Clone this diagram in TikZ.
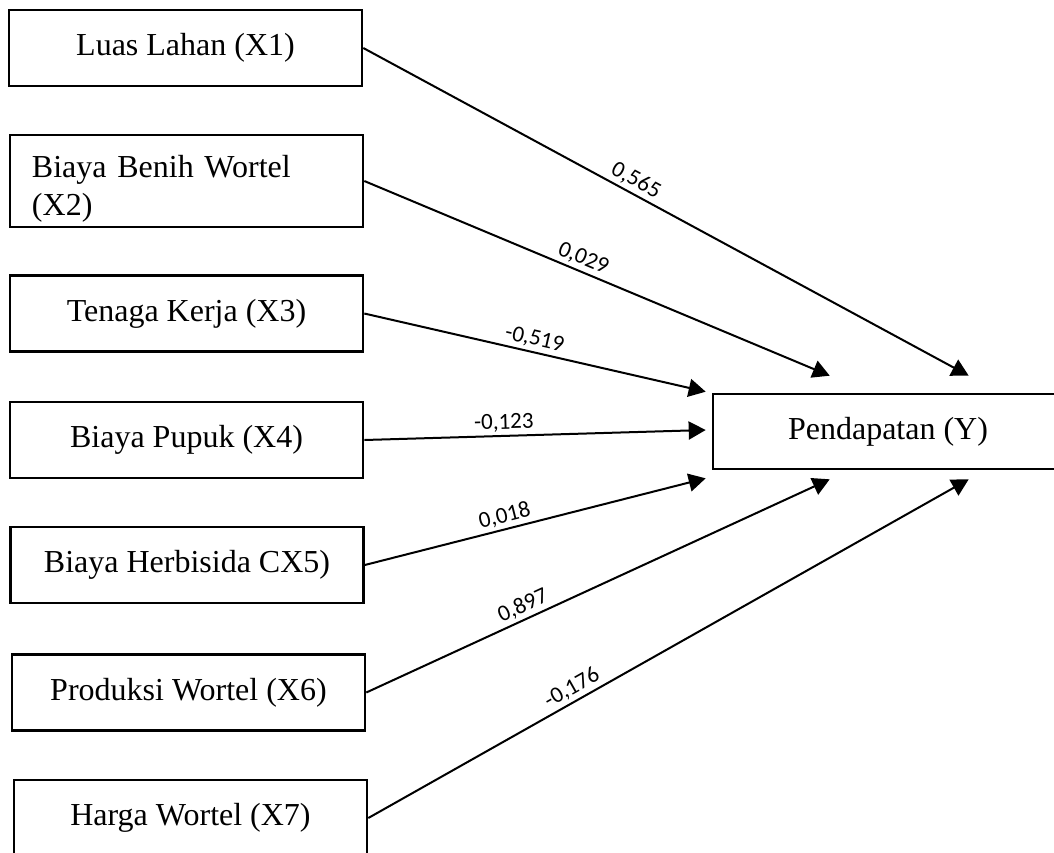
\documentclass[tikz,border=0pt]{standalone}
\usepackage{fontspec}
\setmainfont{Liberation Serif}
\newfontfamily\lblfont{Carlito}
\usetikzlibrary{arrows.meta,calc}

\begin{document}
\begin{tikzpicture}[x=0.5pt,y=-0.5pt,>={Triangle[length=8.5pt,width=9pt]},
    varbox/.style={draw,line width=1.3pt,minimum width=176.5pt,minimum height=38pt,
        inner sep=0pt,font=\fontsize{16}{19}\selectfont},
    link/.style={->,line width=1pt},
    coef/.style={font=\lblfont\fontsize{11.5}{13}\selectfont,above,sloped,inner sep=1.5pt}]
    \useasboundingbox (0,0) rectangle (1054,852);

    % Independent variables
    \node[varbox] (x1) at (185.5,48) {Luas Lahan (X1)};
    \node[varbox,minimum height=46pt,text width=154.5pt,inner xsep=11pt,align=left]
        (x2) at (186.5,181) {\rule{0pt}{19pt}Biaya Benih Wortel\\(X2)};
    \node[varbox] (x3) at (186.5,313.5) {Tenaga Kerja (X3)};
    \node[varbox] (x4) at (186.5,440) {Biaya Pupuk (X4)};
    \node[varbox] (x5) at (187,565) {Biaya Herbisida CX5)};
    \node[varbox] (x6) at (188.5,692.5) {Produksi Wortel (X6)};
    \node[varbox] (x7) at (190.5,818) {Harga Wortel (X7)};

    % Dependent variable
    \node[varbox,minimum width=175pt,minimum height=37.5pt] (y) at (888,431.5) {Pendapatan (Y)};

    % Arrow ends around Y
    \coordinate (t1) at ($(y.north west)+(257,-17)$);
    \coordinate (t2) at ($(y.north west)+(118,-17)$);
    \coordinate (t3) at ($(y.north west)+(-6,-1)$);
    \coordinate (t4) at ($(y.west)+(-6,-1.5)$);
    \coordinate (t5) at ($(y.south west)+(-6,8)$);
    \coordinate (t6) at ($(y.south west)+(118,9)$);
    \coordinate (t7) at ($(y.south west)+(257,9)$);

    % Paths with coefficients
    \draw[link] (x1.east) -- node[coef,pos=0.44] {0,565} (t1);
    \draw[link] (x2.east) -- node[coef,pos=0.46] {0,029} (t2);
    \draw[link] (x3.east) -- node[coef,pos=0.49] {-0,519} (t3);
    \draw[link] (x4.east) -- node[coef,pos=0.41] {-0,123} (t4);
    \draw[link] (x5.east) -- node[coef,pos=0.42] {0,018} (t5);
    \draw[link] (x6.east) -- node[coef,pos=0.35] {0,897} (t6);
    \draw[link] (x7.east) -- node[coef,pos=0.35] {-0,176} (t7);
\end{tikzpicture}
\end{document}
